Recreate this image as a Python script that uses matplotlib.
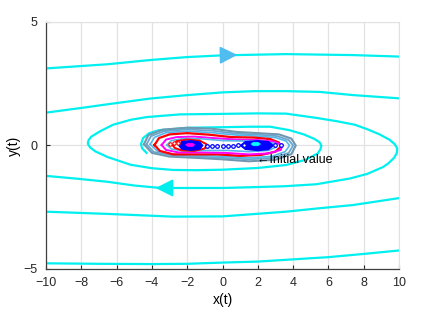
import matplotlib
matplotlib.use("Agg")
import matplotlib.pyplot as plt

# outer cyan trajectory (inner ring -> outer rings)
spiral_pts = [
    (-4.30, -0.30), (-4.55, -0.12), (-4.62, 0.05), (-4.50, 0.30), (-4.15, 0.50),
    (-3.60, 0.62), (-1.80, 0.72), (0.00, 0.74), (1.50, 0.76), (2.70, 0.76),
    (3.80, 0.62), (4.60, 0.45), (5.20, 0.27), (5.50, 0.13), (5.60, 0.00),
    (5.55, -0.15), (5.40, -0.32), (4.70, -0.58), (3.60, -0.79), (2.00, -0.91),
    (0.00, -0.98), (-1.50, -1.00), (-2.80, -0.99), (-4.00, -0.92), (-5.20, -0.78),
    (-6.50, -0.47), (-7.20, -0.24), (-7.50, -0.08), (-7.63, 0.07), (-7.60, 0.20),
    (-7.45, 0.35), (-6.95, 0.57), (-6.20, 0.84), (-5.20, 1.04), (-4.30, 1.15),
    (-2.40, 1.26), (0.00, 1.28), (2.00, 1.30), (3.60, 1.29), (5.30, 1.12),
    (6.50, 0.98), (7.50, 0.84), (8.20, 0.66), (8.90, 0.45), (9.45, 0.24),
    (9.75, 0.06), (9.90, -0.12), (9.88, -0.30), (9.72, -0.50), (9.40, -0.72),
    (9.10, -0.87), (8.20, -1.15), (7.20, -1.34), (5.30, -1.57), (3.50, -1.65),
    (1.60, -1.69), (0.00, -1.72), (-3.50, -1.72), (-5.00, -1.62), (-6.50, -1.47),
    (-8.30, -1.34), (-10.00, -1.23), (-11.00, -1.05), (-11.60, -0.50), (-11.80, 0.20),
    (-11.40, 0.90), (-10.70, 1.22), (-10.00, 1.33), (-8.00, 1.52), (-6.50, 1.67),
    (-4.10, 1.90), (-2.00, 2.04), (0.00, 2.15), (1.80, 2.20), (3.60, 2.20),
    (5.50, 2.17), (7.40, 2.04), (10.00, 1.91), (11.00, 1.75), (11.80, 1.20),
    (12.20, 0.00), (11.80, -1.30), (11.00, -1.90), (10.00, -2.13), (7.40, -2.41),
    (5.50, -2.54), (3.60, -2.68), (0.00, -2.87), (-2.80, -2.88), (-6.50, -2.77),
    (-10.00, -2.68), (-11.20, -2.50), (-12.30, -1.60), (-12.80, 0.00), (-12.30, 1.80),
    (-11.20, 2.90), (-10.00, 3.12), (-6.50, 3.29), (-4.10, 3.46), (-2.00, 3.58),
    (0.00, 3.65), (3.60, 3.70), (5.50, 3.68), (7.40, 3.66), (10.00, 3.60),
    (11.30, 3.40), (12.60, 2.40), (13.20, 0.00), (12.60, -2.50), (11.30, -3.90),
    (10.00, -4.25), (8.00, -4.39), (6.00, -4.52), (4.00, -4.61), (2.00, -4.70),
    (0.00, -4.74), (-2.00, -4.79), (-4.00, -4.80), (-7.00, -4.79), (-10.00, -4.77),
    (-11.00, -4.70),
]

# loops of the attractor near the origin
grey_outer = [(-4.45, 0.05), (-4.2, 0.42), (-3.4, 0.64), (-2.0, 0.72), (-0.6, 0.68),
              (0.8, 0.55), (2.0, 0.50), (3.2, 0.45), (3.9, 0.28), (4.15, 0.0),
              (3.9, -0.35), (3.0, -0.58), (1.5, -0.64), (0.0, -0.56), (-1.5, -0.50),
              (-3.0, -0.45), (-4.0, -0.30), (-4.45, 0.05)]
grey_inner = [(-4.3, 0.05), (-4.05, 0.38), (-3.3, 0.58), (-2.0, 0.65), (-0.6, 0.60),
              (0.8, 0.48), (2.0, 0.44), (3.1, 0.38), (3.75, 0.22), (4.0, 0.0),
              (3.75, -0.30), (2.9, -0.50), (1.5, -0.56), (0.0, -0.50), (-1.5, -0.44),
              (-2.9, -0.40), (-3.9, -0.26), (-4.3, 0.05)]
lightblue_ring = [(-4.1, 0.05), (-3.85, 0.33), (-3.2, 0.52), (-2.0, 0.58), (-0.6, 0.52),
                  (0.8, 0.42), (2.0, 0.38), (3.0, 0.32), (3.6, 0.18), (3.8, 0.0),
                  (3.55, -0.25), (2.8, -0.44), (1.5, -0.50), (0.0, -0.44), (-1.5, -0.38),
                  (-2.8, -0.35), (-3.7, -0.22), (-4.1, 0.05)]
red_ring = [(-3.85, 0.02), (-3.6, 0.30), (-3.0, 0.45), (-2.0, 0.50), (-0.8, 0.44),
            (0.5, 0.34), (1.8, 0.32), (2.7, 0.26), (3.2, 0.12), (3.3, -0.05),
            (3.0, -0.25), (2.2, -0.38), (1.0, -0.42), (-0.3, -0.36), (-1.6, -0.36),
            (-2.8, -0.36), (-3.55, -0.22), (-3.85, 0.02)]
magenta_ring = [(-3.45, 0.02), (-3.2, 0.24), (-2.6, 0.34), (-1.6, 0.36), (-0.5, 0.30),
                (0.8, 0.24), (2.0, 0.22), (2.9, 0.16), (3.4, 0.02), (3.3, -0.18),
                (2.6, -0.32), (1.5, -0.36), (0.2, -0.30), (-1.2, -0.28), (-2.5, -0.28),
                (-3.2, -0.18), (-3.45, 0.02)]
inner_ring = [(-3.15, 0.02), (-2.9, 0.20), (-2.2, 0.28), (-1.2, 0.27), (0.0, 0.20),
              (1.2, 0.18), (2.3, 0.17), (2.95, 0.08), (3.05, -0.06), (2.6, -0.20),
              (1.5, -0.25), (0.3, -0.20), (-1.0, -0.20), (-2.2, -0.22), (-2.9, -0.14),
              (-3.15, 0.02)]
red_small = [(-2.8, 0.0), (-2.6, 0.18), (-2.0, 0.24), (-1.3, 0.20), (-0.9, 0.05),
             (-1.0, -0.12), (-1.6, -0.22), (-2.3, -0.20), (-2.7, -0.10), (-2.8, 0.0)]
blue_left = [(-2.45, 0.0), (-2.3, 0.14), (-1.8, 0.18), (-1.3, 0.13), (-1.15, 0.0),
             (-1.3, -0.14), (-1.8, -0.18), (-2.3, -0.13), (-2.45, 0.0)]
magenta_core = [(-2.1, 0.03), (-1.95, 0.09), (-1.7, 0.09), (-1.58, 0.03), (-1.7, -0.04),
                (-1.95, -0.04), (-2.1, 0.03)]
blue_right = [(1.05, 0.0), (1.3, 0.14), (2.0, 0.18), (2.6, 0.14), (2.85, 0.0),
              (2.6, -0.15), (2.0, -0.19), (1.3, -0.14), (1.05, 0.0)]
cyan_core = [(1.62, 0.06), (1.75, 0.13), (2.0, 0.13), (2.15, 0.06), (2.0, -0.01),
             (1.75, -0.01), (1.62, 0.06)]
blue_dots_x = [-0.9, -0.6, -0.3, 0.0, 0.3, 0.6, 0.9, 1.2, 3.0, 3.3]
blue_dots_y = [-0.02, -0.02, -0.02, -0.02, -0.02, -0.01, 0.0, 0.0, 0.02, 0.02]
red_dots_x = [-3.0, -2.75, -2.5]
red_dots_y = [0.05, 0.10, 0.12]

# direction arrows (tail, head) and the label
arrow_top = ((0.25, 3.66), (1.0, 3.67))
arrow_bottom = ((-3.25, -1.72), (-3.95, -1.72))
label_pos = (1.95, -0.58)
label_text = "\u2190Initial value"

xticks = [-10, -8, -6, -4, -2, 0, 2, 4, 6, 8, 10]
yticks = [-5, 0, 5]

plt.rcParams["font.family"] = ["Liberation Sans Narrow", "Liberation Sans", "DejaVu Sans"]


def xy(pts):
    return [p[0] for p in pts], [p[1] for p in pts]


fig = plt.figure(figsize=(4.39, 3.22), dpi=100)
ax = fig.add_axes([0.1048, 0.1646, 0.8041, 0.7671])

ax.plot(*xy(spiral_pts), color="#00f0f0", lw=1.6, zorder=2,
        solid_joinstyle="round")

ax.plot(*xy(grey_outer), color="#7097b0", lw=1.5, zorder=3)
ax.plot(*xy(grey_inner), color="#6aa6cc", lw=1.3, zorder=3)
ax.plot(*xy(lightblue_ring), color="#55b6ea", lw=1.2, zorder=3)
ax.plot(*xy(red_ring), color="#ff0000", lw=1.6, zorder=4)
ax.plot(*xy(magenta_ring), color="#ff00ff", lw=1.4, zorder=4)
ax.plot(*xy(inner_ring), color="#55b6ea", lw=1.2, zorder=4)
ax.plot(*xy(red_small), color="#ff0000", lw=1.4, zorder=5)
ax.fill(*xy(blue_left), color="#0000ff", lw=1.5, zorder=6)
ax.fill(*xy(magenta_core), color="#ff00ff", lw=0.5, zorder=7)
ax.fill(*xy(blue_right), color="#0000ff", lw=1.5, zorder=6)
ax.fill(*xy(cyan_core), color="#00ffff", lw=0.5, zorder=7)
ax.plot(blue_dots_x, blue_dots_y, "o", ms=2.6, mfc="white", mec="#0000ff",
        mew=0.9, zorder=6)
ax.plot(red_dots_x, red_dots_y, "o", ms=2.4, mfc="white", mec="#ff0000",
        mew=0.8, zorder=6)

for (tail, head), col in [(arrow_top, "#4fbdf0"), (arrow_bottom, "#00eeee")]:
    ax.annotate("", xy=head, xytext=tail,
                arrowprops=dict(arrowstyle="-|>,head_length=0.9,head_width=0.45",
                                color=col, lw=1.2, mutation_scale=12),
                zorder=8)

ax.text(label_pos[0], label_pos[1], label_text, ha="left", va="center",
        fontsize=9, color="black", fontweight="medium", zorder=9)

ax.set_xlim(-10, 10)
ax.set_ylim(-5, 5)
ax.set_xticks(xticks)
ax.set_yticks(yticks)
ax.tick_params(direction="in", length=3, width=0.8, labelsize=9,
               colors="#262626", pad=6)
ax.grid(True, color="#e2e2e2", lw=0.9)
ax.set_axisbelow(True)
for side in ["top", "right"]:
    ax.spines[side].set_color("#e2e2e2")
for side in ["left", "bottom"]:
    ax.spines[side].set_color("#404040")
    ax.spines[side].set_linewidth(0.9)

ax.set_xlabel("x(t)", fontsize=10, labelpad=3)
ax.set_ylabel("y(t)", fontsize=10, labelpad=2)

fig.savefig("out.png", dpi=100)
